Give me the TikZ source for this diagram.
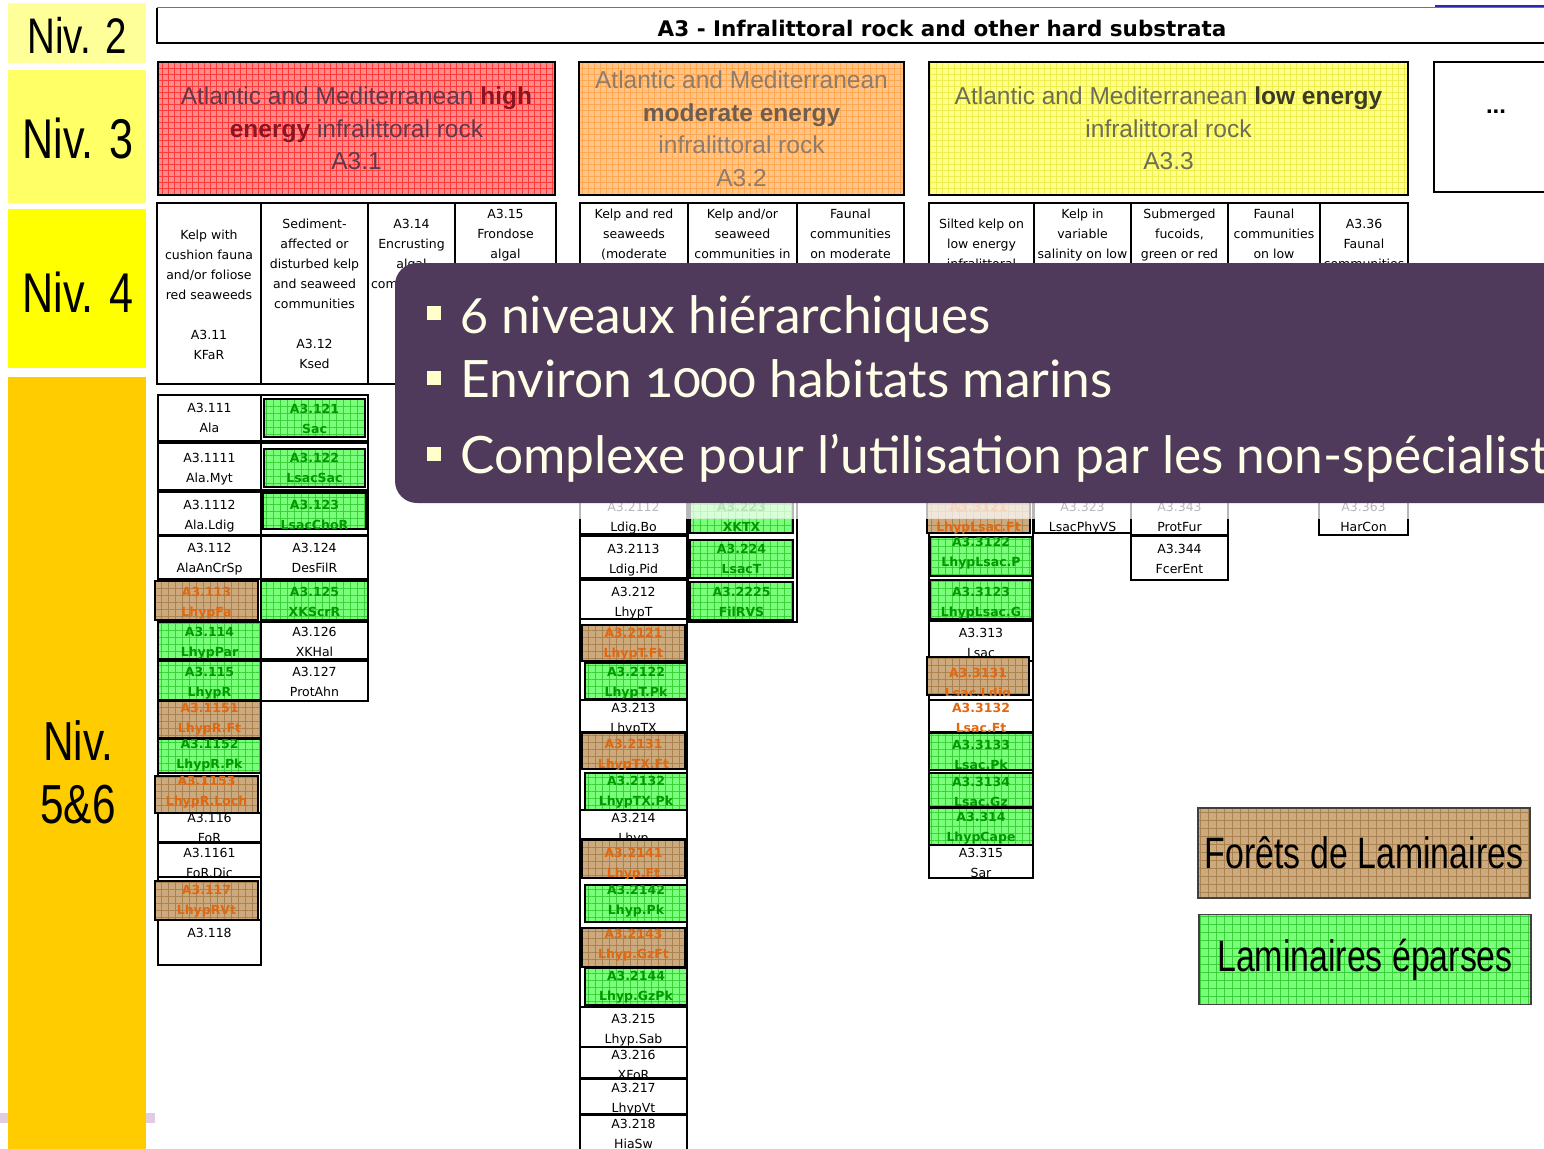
\documentclass[tikz,border=0pt]{standalone}
\usepackage{fontspec}
\setmainfont{Liberation Sans}
\newfontfamily\narrowf[FakeStretch=0.77]{Liberation Sans}
\newfontfamily\cellf{DejaVu Sans}
\newfontfamily\overf[Numbers=OldStyle]{Lato}
\usetikzlibrary{patterns.meta}

\definecolor{nivtwo}{HTML}{FFFF99}
\definecolor{nivthree}{HTML}{FFFF66}
\definecolor{nivfour}{HTML}{FFFF00}
\definecolor{nivfive}{HTML}{FFCC00}
\definecolor{stripc}{HTML}{E2CCE2}
\definecolor{redf}{HTML}{FF8A8A}
\definecolor{redg}{HTML}{FF3A3A}
\definecolor{redtxt}{HTML}{5E3A50}
\definecolor{redbold}{HTML}{8A1525}
\definecolor{orgf}{HTML}{FFC489}
\definecolor{orgg}{HTML}{FFA850}
\definecolor{orgtxt}{HTML}{8E7C6C}
\definecolor{orgbold}{HTML}{6E5E50}
\definecolor{yelf}{HTML}{FFFF8A}
\definecolor{yelg}{HTML}{EEEE50}
\definecolor{yeltxt}{HTML}{6E6E58}
\definecolor{yelbold}{HTML}{3A3A26}
\definecolor{grnf}{HTML}{7AFF7A}
\definecolor{grng}{HTML}{3AD03A}
\definecolor{grntxt}{HTML}{009A00}
\definecolor{brnf}{HTML}{CCAA7E}
\definecolor{brng}{HTML}{AA8250}
\definecolor{brntxt}{HTML}{E06810}
\definecolor{ovlc}{HTML}{4F3A5B}
\definecolor{ovltxt}{HTML}{FFFFE8}
\definecolor{ovlbul}{HTML}{FFFFCC}
\definecolor{topblue}{HTML}{2A2AB0}

\tikzset{
 box/.style={draw=black,line width=2pt,inner sep=0pt,outer sep=0pt},
 cellw/.style={fill=white},
 cello/.style={fill=white},
 cellg/.style={preaction={fill=grnf},preaction={pattern={Hatch[distance=7pt,line width=0.35pt]},pattern color=grng}},
 cellb/.style={preaction={fill=brnf},preaction={pattern={Hatch[distance=7pt,line width=0.35pt]},pattern color=brng}},
 txtbase/.style={inner sep=0pt,outer sep=0pt,align=center},
 txtw/.style={txtbase,text=black,font=\cellf\fontsize{12.5}{20}\selectfont},
 txto/.style={txtbase,text=brntxt,font=\cellf\bfseries\fontsize{12.5}{20}\selectfont},
 txtg/.style={txtbase,text=grntxt,font=\cellf\bfseries\fontsize{12.5}{20}\selectfont},
 txtb/.style={txtbase,text=brntxt,font=\cellf\bfseries\fontsize{12.5}{20}\selectfont},
 nivbox/.style={inner sep=0pt,outer sep=0pt,text=black},
 nthree/.style={draw=black,line width=2.5pt,inner sep=0pt,outer sep=0pt,align=center,font=\fontsize{24.5}{32.5}\selectfont},
 ovtxt/.style={inner sep=0pt,text=ovltxt,font=\overf\fontsize{51.5}{60}\selectfont},
 ovbul/.style={fill=ovlbul,minimum size=14pt,inner sep=0pt},
 legend/.style={draw=black!75,line width=1.6pt,inner sep=0pt,font=\narrowf\fontsize{44}{50}\selectfont},
}

\newcommand\mycell[9]{%
 \node[box,cell#6,minimum width=#4pt,minimum height=#5pt,anchor=north west] (#1) at (#2,#3) {};
 \begin{scope}
 \clip (#1.north west) rectangle (#1.south east);
 \node[txt#6,anchor=north] (#1t) at ([yshift=-#7pt]#1.north) {#8\\#9};
 \end{scope}}

\newcommand\headcell[6]{%
 \node[box,fill=white,minimum width=#3pt,minimum height=#4pt,anchor=north west] (#1) at (#2,203) {};
 \begin{scope}
 \clip (#1.north west) rectangle (#1.south east);
 \node[txtw,anchor=north] (#1t) at ([yshift=-#5pt]#1.north) {#6};
 \end{scope}}

\begin{document}
\begin{tikzpicture}[x=1pt,y=-1pt]
\useasboundingbox (0,0) rectangle (1544,1148);
\clip (0,0) rectangle (1544,1148);
\fill[white] (0,0) rectangle (1544,1148);

% ---------- level labels ----------
\fill[stripc] (0,1113) rectangle (155,1123);
\node[nivbox,fill=nivtwo,minimum width=138pt,minimum height=60pt] (niv2) at (77,33) {};
\node[font=\narrowf\fontsize{50}{56}\selectfont] (niv2t) at (77,35) {Niv. 2};
\node[nivbox,fill=nivthree,minimum width=138pt,minimum height=133pt] (niv3) at (77,136.5) {};
\node[font=\narrowf\fontsize{56}{60}\selectfont] (niv3t) at (78,138) {Niv. 3};
\node[nivbox,fill=nivfour,minimum width=138pt,minimum height=159pt] (niv4) at (77,288.5) {};
\node[font=\narrowf\fontsize{56}{60}\selectfont] (niv4t) at (78,292) {Niv. 4};
\node[nivbox,fill=nivfive,minimum width=138pt,minimum height=790pt,anchor=north] (niv5) at (77,377) {};
\node[font=\narrowf\fontsize{55}{63}\selectfont,align=center] (niv5t) at (78,772) {Niv.\\5\&6};

% ---------- level 2 header ----------
\node[inner sep=0pt,outer sep=0pt,minimum width=1420pt,minimum height=35pt,anchor=north west] (hdr) at (157,8) {};
\draw[line width=1pt,black!55] (hdr.north west) -- (hdr.north east);
\draw[line width=2.5pt] (hdr.north west) -- (hdr.south west) -- (hdr.south east);
\draw[topblue,line width=1.5pt] (1435,6) -- (1560,6);
\node[font=\cellf\bfseries\fontsize{21.5}{26}\selectfont] (title) at (942,28) {A3 - Infralittoral rock and other hard substrata};

% ---------- level 3 ----------
\node[nthree,text=redtxt,preaction={fill=redf},preaction={pattern={Hatch[distance=6pt,line width=0.35pt]},pattern color=redg},minimum width=397pt,minimum height=133pt] (a31) at (356.5,128.5)
 {Atlantic and Mediterranean \textbf{\color{redbold}high}\\\textbf{\color{redbold}energy} infralittoral rock\\A3.1};
\node[nthree,text=orgtxt,preaction={fill=orgf},preaction={pattern={Hatch[distance=6pt,line width=0.3pt]},pattern color=orgg},minimum width=325pt,minimum height=133pt] (a32) at (741.5,128.5)
 {Atlantic and Mediterranean\\\textbf{\color{orgbold}moderate energy}\\infralittoral rock\\A3.2};
\node[nthree,text=yeltxt,preaction={fill=yelf},preaction={pattern={Hatch[distance=6pt,line width=0.25pt]},pattern color=yelg},minimum width=479pt,minimum height=133pt] (a33) at (1168.5,128.5)
 {Atlantic and Mediterranean \textbf{\color{yelbold}low energy}\\infralittoral rock\\A3.3};
\node[box,fill=white,minimum width=130pt,minimum height=130pt,anchor=north west] (dots) at (1434,62) {};
\node[font=\bfseries\fontsize{24}{28}\selectfont] (dotst) at (1496,112) {...};

% ---------- level 4 ----------
\headcell{hA}{157}{104}{181}{27}{Kelp with\\cushion fauna\\and/or foliose\\red seaweeds\\[20pt]A3.11\\KFaR}
\headcell{hB}{261}{107}{181}{16}{Sediment-\\affected or\\disturbed kelp\\and seaweed\\communities\\[20pt]A3.12\\Ksed}
\headcell{hC}{368}{87}{181}{16}{A3.14\\Encrusting\\algal\\communities}
\headcell{hD}{455}{101}{181}{6}{A3.15\\Frondose\\algal}
\headcell{hE}{580}{108}{190}{6}{Kelp and red\\seaweeds\\(moderate}
\headcell{hF}{688}{109}{190}{6}{Kelp and/or\\seaweed\\communities in}
\headcell{hG}{797}{107}{190}{6}{Faunal\\communities\\on moderate}
\headcell{hH}{929}{105}{190}{16}{Silted kelp on\\low energy\\infralittoral}
\headcell{hI}{1034}{97}{190}{6}{Kelp in\\variable\\salinity on low}
\headcell{hJ}{1131}{97}{190}{6}{Submerged\\fucoids,\\green or red}
\headcell{hK}{1228}{92}{190}{6}{Faunal\\communities\\on low}
\headcell{hL}{1320}{88}{190}{16}{A3.36\\Faunal\\communities}

% ---------- level 5 & 6 : column frames ----------
\node[box,fill=white,minimum width=103pt,minimum height=570pt,anchor=north west] (fL1) at (158,395) {};
\node[box,fill=white,minimum width=107pt,minimum height=306pt,anchor=north west] (fL2) at (261,395) {};
\node[box,fill=white,minimum width=107pt,minimum height=700pt,anchor=north west] (fM1) at (580,470) {};
\node[box,fill=white,minimum width=109pt,minimum height=152pt,anchor=north west] (fM2) at (688,470) {};
\node[box,fill=white,minimum width=104pt,minimum height=408pt,anchor=north west] (fQ1) at (929,470) {};

% left column 1
\mycell{L1}{158}{395}{103}{46}{w}{8}{A3.111}{Ala}
\mycell{L2}{158}{443}{103}{47}{w}{10}{A3.1111}{Ala.Myt}
\mycell{L3}{158}{492}{103}{43}{w}{8}{A3.1112}{Ala.Ldig}
\mycell{L4}{158}{536}{103}{43}{w}{7}{A3.112}{AlaAnCrSp}
\mycell{L5}{155}{581}{103}{39}{b}{6}{A3.113}{LhypFa}
\mycell{L6}{158}{622}{103}{37}{g}{5}{A3.114}{LhypPar}
\mycell{L7}{158}{661}{103}{39}{g}{6}{A3.115}{LhypR}
\mycell{L8}{158}{701}{103}{37}{b}{2}{A3.1151}{LhypR.Ft}
\mycell{L9}{158}{739}{103}{34}{g}{0}{A3.1152}{LhypR.Pk}
\mycell{L10}{155}{776}{103}{37}{b}{0}{A3.1153}{LhypR.Loch}
\mycell{L11}{158}{813}{103}{29}{w}{0}{A3.116}{FoR}
\mycell{L12}{158}{843}{103}{34}{w}{5}{A3.1161}{FoR.Dic}
\mycell{L13}{155}{881}{103}{39}{b}{4}{A3.117}{LhypRVt}
\mycell{L14}{158}{920}{103}{45}{w}{8}{A3.118}{}

% left column 2
\node[box,fill=white,minimum width=107pt,minimum height=46pt,anchor=north west] (R1o) at (261,395) {};
\mycell{R1}{264}{399}{101}{38}{g}{5}{A3.121}{Sac}
\node[box,fill=white,minimum width=107pt,minimum height=47pt,anchor=north west] (R2o) at (261,443) {};
\mycell{R2}{264}{449}{101}{38}{g}{4}{A3.122}{LsacSac}
\node[box,fill=white,minimum width=107pt,minimum height=43pt,anchor=north west] (R3o) at (261,492) {};
\mycell{R3}{263}{493}{103}{36}{g}{7}{A3.123}{LsacChoR}
\mycell{R4}{261}{536}{107}{43}{w}{7}{A3.124}{DesFilR}
\mycell{R5}{261}{581}{107}{39}{g}{6}{A3.125}{XKScrR}
\mycell{R6}{261}{622}{107}{37}{w}{5}{A3.126}{XKHal}
\mycell{R7}{261}{661}{107}{40}{w}{6}{A3.127}{ProtAhn}

% middle column 1
\mycell{M0}{580}{480}{107}{54}{w}{22}{A3.2112}{Ldig.Bo}
\mycell{M1}{580}{536}{107}{42}{w}{8}{A3.2113}{Ldig.Pid}
\mycell{M2}{580}{580}{107}{39}{w}{7}{A3.212}{LhypT}
\mycell{M3}{582}{625}{103}{36}{b}{3}{A3.2121}{LhypT.Ft}
\mycell{M4}{585}{663}{102}{36}{g}{4}{A3.2122}{LhypT.Pk}
\mycell{M5}{580}{700}{107}{32}{w}{3}{A3.213}{LhypTX}
\mycell{M6}{582}{733}{103}{36}{b}{6}{A3.2131}{LhypTX.Ft}
\mycell{M7}{585}{773}{102}{37}{g}{3}{A3.2132}{LhypTX.Pk}
\mycell{M8}{580}{810}{107}{29}{w}{3}{A3.214}{Lhyp}
\mycell{M9}{582}{840}{103}{38}{b}{8}{A3.2141}{Lhyp.Ft}
\mycell{M10}{585}{885}{102}{37}{g}{0}{A3.2142}{Lhyp.Pk}
\mycell{M11}{582}{928}{103}{39}{b}{1}{A3.2143}{Lhyp.GzFt}
\mycell{M12}{585}{968}{102}{37}{g}{3}{A3.2144}{Lhyp.GzPk}
\mycell{M13}{580}{1007}{107}{40}{w}{7}{A3.215}{Lhyp.Sab}
\mycell{M14}{580}{1047}{107}{31}{w}{3}{A3.216}{XFoR}
\mycell{M15}{580}{1079}{107}{35}{w}{4}{A3.217}{LhypVt}
\mycell{M16}{580}{1115}{107}{45}{w}{4}{A3.218}{HiaSw}

% middle column 2
\mycell{N1}{690}{480}{103}{53}{g}{22}{A3.223}{XKTX}
\mycell{N2}{690}{540}{103}{38}{g}{4}{A3.224}{LsacT}
\mycell{N3}{690}{582}{103}{38}{g}{5}{A3.2225}{FilRVS}

% right columns
\mycell{Q1}{927}{480}{103}{53}{b}{22}{A3.3121}{LhypLsac.Ft}
\mycell{Q2}{930}{537}{102}{39}{g}{0}{A3.3122}{LhypLsac.P}
\mycell{Q3}{930}{580}{102}{39}{g}{7}{A3.3123}{LhypLsac.G}
\mycell{Q4}{929}{621}{104}{40}{w}{7}{A3.313}{Lsac}
\mycell{Q5}{927}{657}{102}{38}{b}{11}{A3.3131}{Lsac.Ldig}
\mycell{Q6}{929}{700}{104}{32}{o}{3}{A3.3132}{Lsac.Ft}
\mycell{Q7}{929}{733}{104}{37}{g}{7}{A3.3133}{Lsac.Pk}
\mycell{Q8}{929}{773}{104}{34}{g}{4}{A3.3134}{Lsac.Gz}
\mycell{Q9}{929}{808}{104}{37}{g}{4}{A3.314}{LhypCape}
\mycell{Q10}{929}{845}{104}{33}{w}{3}{A3.315}{Sar}
\mycell{Q11}{1034}{480}{97}{53}{w}{22}{A3.323}{LsacPhyVS}
\mycell{Q12}{1131}{480}{97}{55}{w}{22}{A3.343}{ProtFur}
\mycell{Q13}{1131}{536}{97}{44}{w}{8}{A3.344}{FcerEnt}
\mycell{Q14}{1319}{480}{89}{55}{w}{22}{A3.363}{HarCon}

% ---------- overlay ----------
\fill[white,opacity=0.72] (398,503) rectangle (1560,519);
\node[fill=ovlc,rounded corners=22pt,inner sep=0pt,outer sep=0pt,minimum width=1200pt,minimum height=240pt,anchor=north west] (ovl) at (395,263) {};
\node[ovbul] (bu1) at (434,313) {};
\node[ovbul] (bu2) at (434,378) {};
\node[ovbul] (bu3) at (434,454) {};
\node[ovtxt,anchor=base west] (ov1) at (460,333) {6 niveaux hiérarchiques};
\node[ovtxt,anchor=base west] (ov2) at (460,397) {Environ 1000 habitats marins};
\node[ovtxt,anchor=base west] (ov3) at (460,473) {Complexe pour l’utilisation par les non-spécialistes};

% ---------- legend ----------
\node[legend,preaction={fill=brnf},preaction={pattern={Hatch[distance=8pt,line width=0.4pt]},pattern color=brng},minimum width=332pt,minimum height=90pt] (lg1) at (1364,853) {Forêts de Laminaires};
\node[legend,preaction={fill=grnf},preaction={pattern={Hatch[distance=8pt,line width=0.4pt]},pattern color=grng},minimum width=332pt,minimum height=90pt] (lg2) at (1365,959.5) {Laminaires éparses};
\end{tikzpicture}
\end{document}
